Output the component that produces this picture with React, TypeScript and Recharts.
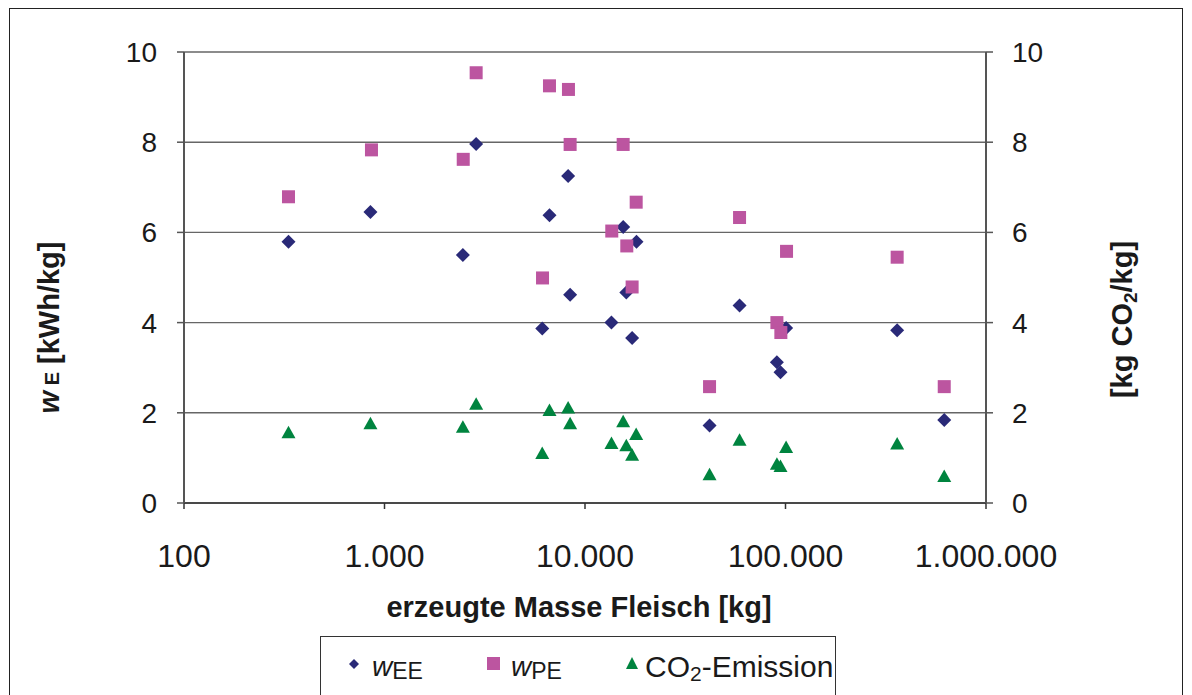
import React from 'react';
import { ScatterChart, Scatter, XAxis, YAxis, CartesianGrid, Legend } from 'recharts';

// erzeugte Masse Fleisch [kg] and specific values per series
const eeMass = [332, 851, 2460, 2865, 6650, 8240, 6120, 8430, 13550, 15500, 18070, 16070, 17180, 59000, 41800, 90600, 94400, 100700, 360500, 619000];
const eeValues = [5.79, 6.45, 5.5, 7.96, 6.38, 7.25, 3.87, 4.62, 4.0, 6.12, 5.79, 4.67, 3.66, 4.38, 1.72, 3.12, 2.9, 3.88, 3.83, 1.84];

const peMass = [332, 861, 2470, 2865, 6650, 8270, 8430, 6140, 15500, 18000, 13600, 16160, 59000, 101200, 360500, 17180, 41800, 90600, 94800, 619000];
const peValues = [6.79, 7.83, 7.62, 9.54, 9.25, 9.17, 7.95, 4.99, 7.95, 6.67, 6.03, 5.7, 6.33, 5.58, 5.45, 4.79, 2.58, 4.0, 3.78, 2.58];

const co2Mass = [332, 851, 2460, 2865, 6650, 8240, 8430, 6120, 13550, 15500, 16070, 17180, 18000, 59000, 41800, 90600, 94400, 100700, 360500, 619000];
const co2Values = [1.57, 1.77, 1.69, 2.2, 2.06, 2.12, 1.77, 1.11, 1.33, 1.81, 1.28, 1.07, 1.53, 1.4, 0.64, 0.87, 0.82, 1.24, 1.32, 0.6];

const xTicks = [100, 1000, 10000, 100000, 1000000];
const xTickLabels = ['100', '1.000', '10.000', '100.000', '1.000.000'];
const yTicks = [0, 2, 4, 6, 8, 10];

const eeData = eeMass.map((x, i) => ({ x, y: eeValues[i] }));
const peData = peMass.map((x, i) => ({ x, y: peValues[i] }));
const co2Data = co2Mass.map((x, i) => ({ x, y: co2Values[i] }));

const FONT = '"Liberation Sans", Arial, Helvetica, sans-serif';
const C_EE = '#2A2A78';
const C_PE = '#BC55A0';
const C_CO2 = '#00843F';

const Diamond = (p: any) => {
  const { cx, cy } = p;
  const r = 7;
  return <path d={`M${cx},${cy - r}L${cx + r},${cy}L${cx},${cy + r}L${cx - r},${cy}Z`} fill={C_EE} />;
};
const Square = (p: any) => {
  const { cx, cy } = p;
  return <rect x={cx - 6.5} y={cy - 6.5} width={13} height={13} fill={C_PE} />;
};
const Triangle = (p: any) => {
  const { cx, cy } = p;
  return <path d={`M${cx},${cy - 6.5}L${cx + 7},${cy + 6}L${cx - 7},${cy + 6}Z`} fill={C_CO2} />;
};

const XTitle = (props: any) => {
  const vb = props.viewBox || { x: 184, y: 503, width: 802 };
  return (
    <text x={vb.x + vb.width / 2 - 6} y={vb.y + 114} textAnchor="middle" fontSize={29} fontWeight="bold" fill="#1a1a1a" fontFamily={FONT}>
      erzeugte Masse Fleisch [kg]
    </text>
  );
};

const LeftTitle = (props: any) => {
  const vb = props.viewBox || { x: 0, y: 52, width: 184, height: 451 };
  const x = 59;
  const y = vb.y + vb.height / 2 + 50;
  return (
    <text x={x} y={y} transform={`rotate(-90 ${x} ${y})`} textAnchor="middle" fontSize={29} fontWeight="bold" fill="#1a1a1a" fontFamily={FONT}>
      <tspan fontStyle="italic">w</tspan>
      <tspan fontSize={20}> E</tspan>
      <tspan> [kWh/kg]</tspan>
    </text>
  );
};

const RightTitle = (props: any) => {
  const vb = props.viewBox || { x: 986, y: 52, width: 206, height: 451 };
  const x = 1132;
  const y = vb.y + vb.height / 2 + 42;
  return (
    <text x={x} y={y} transform={`rotate(-90 ${x} ${y})`} textAnchor="middle" fontSize={29} fontWeight="bold" fill="#1a1a1a" fontFamily={FONT}>
      <tspan>[kg CO</tspan>
      <tspan fontSize={19} dy={5}>2</tspan>
      <tspan dy={-5}>/kg]</tspan>
    </text>
  );
};

const LegendBox = () => (
  <div style={{ position: 'relative', width: 516, height: 70, border: '1.5px solid #333', boxSizing: 'border-box', background: '#fff' }}>
    <svg width={516} height={70} style={{ position: 'absolute', left: -1.5, top: -1.5 }}>
      <path d="M34,23L39,28L34,33L29,28Z" fill={C_EE} />
      <text x={52} y={40} fontFamily={FONT} fill="#1a1a1a">
        <tspan fontSize={28} fontStyle="italic">w</tspan>
        <tspan fontSize={23} dy={3}>EE</tspan>
      </text>
      <rect x={167} y={21} width={13} height={13} fill={C_PE} />
      <text x={191} y={40} fontFamily={FONT} fill="#1a1a1a">
        <tspan fontSize={28} fontStyle="italic">w</tspan>
        <tspan fontSize={23} dy={3}>PE</tspan>
      </text>
      <path d="M312,21L318,33L306,33Z" fill={C_CO2} />
      <text x={325} y={41} fontFamily={FONT} fontSize={30} fill="#1a1a1a">
        <tspan>CO</tspan>
        <tspan fontSize={21} dy={4}>2</tspan>
        <tspan dy={-4}>-Emission</tspan>
      </text>
    </svg>
  </div>
);

export default function App() {
  return (
    <div style={{ position: 'absolute', left: 0, top: 0, width: 1192, height: 695, overflow: 'hidden', background: '#fff' }}>
      <div style={{ position: 'absolute', left: 9, top: 8, width: 1174, height: 740, border: '1.5px solid #222', boxSizing: 'border-box' }} />
      <div style={{ position: 'absolute', left: 0, top: 0 }}>
        <ScatterChart width={1192} height={695} margin={{ top: 52, right: 0, bottom: 132, left: 0 }}>
          <CartesianGrid vertical={false} yAxisId="l" stroke="#666" strokeWidth={1.4} />
          <XAxis
            type="number"
            dataKey="x"
            scale="log"
            domain={[100, 1000000]}
            ticks={xTicks}
            interval={0}
            allowDataOverflow
            height={60}
            tickSize={6}
            tickMargin={35}
            tickFormatter={(v: number) => xTickLabels[xTicks.indexOf(v)] ?? String(v)}
            tick={{ fontSize: 32, fill: '#1a1a1a', fontFamily: FONT }}
            axisLine={{ stroke: '#333', strokeWidth: 1.5 }}
            tickLine={{ stroke: '#333', strokeWidth: 1.5 }}
            label={{ content: XTitle } as any}
          />
          <YAxis
            yAxisId="l"
            orientation="left"
            type="number"
            dataKey="y"
            domain={[0, 10]}
            ticks={yTicks}
            interval={0}
            width={184}
            tickSize={7}
            tickMargin={20}
            tick={{ fontSize: 28, fill: '#1a1a1a', fontFamily: FONT }}
            axisLine={{ stroke: '#555', strokeWidth: 2 }}
            tickLine={{ stroke: '#555', strokeWidth: 1.5 }}
            label={{ content: LeftTitle } as any}
          />
          <YAxis
            yAxisId="r"
            orientation="right"
            type="number"
            dataKey="y"
            domain={[0, 10]}
            ticks={yTicks}
            interval={0}
            width={206}
            tickSize={7}
            tickMargin={19}
            tick={{ fontSize: 28, fill: '#1a1a1a', fontFamily: FONT }}
            axisLine={{ stroke: '#555', strokeWidth: 2 }}
            tickLine={{ stroke: '#555', strokeWidth: 1.5 }}
            label={{ content: RightTitle } as any}
          />
          <Legend
            layout="vertical"
            align="center"
            verticalAlign="middle"
            wrapperStyle={{ position: 'absolute', left: 320, top: 636, width: 516, height: 70 }}
            content={LegendBox}
          />
          <Scatter name="wEE" data={eeData} yAxisId="l" shape={Diamond} isAnimationActive={false} />
          <Scatter name="wPE" data={peData} yAxisId="l" shape={Square} isAnimationActive={false} />
          <Scatter name="CO2-Emission" data={co2Data} yAxisId="r" shape={Triangle} isAnimationActive={false} />
        </ScatterChart>
      </div>
    </div>
  );
}
